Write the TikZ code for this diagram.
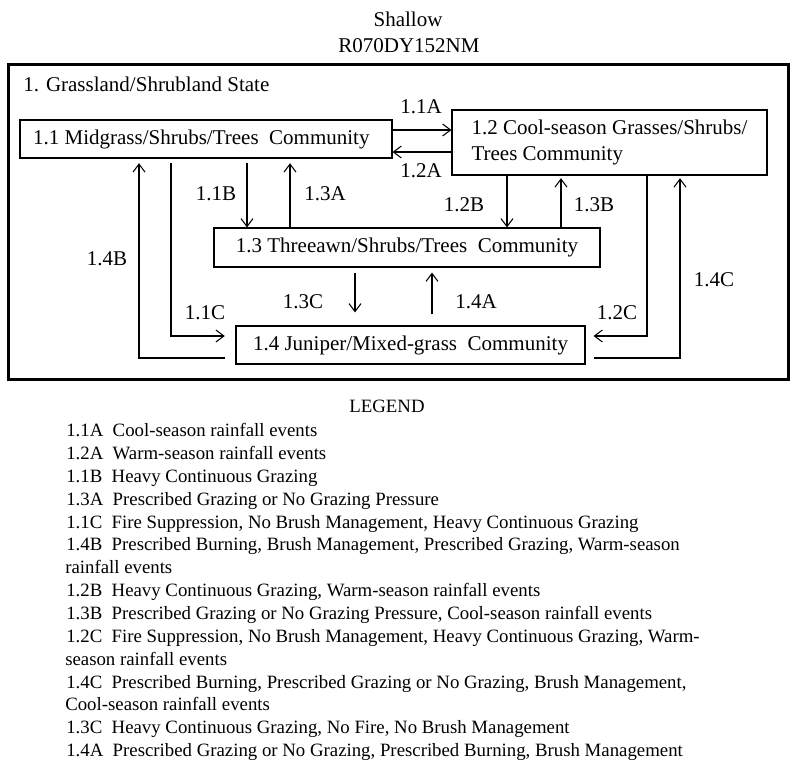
\documentclass[tikz,border=0pt]{standalone}
\usepackage{fontspec}
\setmainfont{Liberation Serif}
\usetikzlibrary{arrows.meta}
\begin{document}
\begin{tikzpicture}[x=0.75pt,y=-0.75pt,
  box/.style={draw,line width=0.8pt,inner sep=0pt,font=\fontsize{15.75}{20}\selectfont},
  lab/.style={inner sep=0pt,font=\fontsize{15.75}{19}\selectfont},
  arr/.style={line width=0.8pt,-{Straight Barb[length=6pt,width=9pt]}},
  leg/.style={anchor=base west,inner sep=0pt,font=\fontsize{14.1}{16}\selectfont}]
\useasboundingbox (0,0) rectangle (800,773);
% titles
\node[lab,anchor=base] (t1) at (408,27) {Shallow};
\node[lab,anchor=base] (t2) at (409,53) {R070DY152NM};
% frame
\node[draw,line width=2.25pt,inner sep=0pt,minimum width=585pt,minimum height=235.9pt] (frame) at (398,222.25) {};
\node[lab,anchor=base west] (st) at (23,92) {1. Grassland/Shrubland State};
% boxes
\node[box,minimum width=279pt,minimum height=28.5pt] (b11) at (206,139) {1.1 Midgrass/Shrubs/Trees\ \ Community\kern7pt};
\node[box,minimum width=236.25pt,minimum height=48.75pt,align=left] (b12) at (609.5,142.5) {1.2 Cool-season Grasses/Shrubs/\\Trees Community};
\node[box,minimum width=289.5pt,minimum height=29.25pt] (b13) at (407,247.5) {1.3 Threeawn/Shrubs/Trees\ \ Community};
\node[box,minimum width=261.75pt,minimum height=28.5pt] (b14) at (410.5,345) {1.4 Juniper/Mixed-grass\ \ Community};
% connectors
\draw[arr] (b11.east |- 0,130) -- (b12.west |- 0,130);
\draw[arr] (b12.west |- 0,152) -- (b11.east |- 0,152);
\draw[arr,shorten <=3pt] (b11.south -| 247,0) -- (b13.north -| 247,0);
\draw[arr,shorten >=3.5pt] (b13.north -| 290,0) -- (b11.south -| 290,0);
\draw[arr,shorten >=3.5pt] ([xshift=-7.5pt]b14.west |- 0,358) -| (b11.south -| 139,0);
\draw[arr,shorten <=3pt] (b11.south -| 171,0) |- ([xshift=-8pt]b14.west |- 0,336);
\draw[arr] (b12.south -| 507,0) -- (b13.north -| 507,0);
\draw[arr,shorten >=2pt] (b13.north -| 561,0) -- (b12.south -| 561,0);
\draw[arr] (b12.south -| 647,0) |- ([xshift=6pt]b14.east |- 0,336);
\draw[arr,shorten >=2pt] ([xshift=6pt]b14.east |- 0,358) -| (b12.south -| 680,0);
\draw[arr,shorten <=3.75pt,shorten >=9.75pt] (b13.south -| 355,0) -- (b14.north -| 355,0);
\draw[arr,shorten <=8.25pt,shorten >=3.75pt] (b14.north -| 432,0) -- (b13.south -| 432,0);
% labels
\node[lab] (l11A) at (421,107) {1.1A};
\node[lab] (l12A) at (421,171) {1.2A};
\node[lab] (l11B) at (216,194) {1.1B};
\node[lab] (l13A) at (325,194) {1.3A};
\node[lab] (l12B) at (464,205) {1.2B};
\node[lab] (l13B) at (594,205) {1.3B};
\node[lab] (l14B) at (107,259) {1.4B};
\node[lab] (l11C) at (205,313) {1.1C};
\node[lab] (l13C) at (303,302) {1.3C};
\node[lab] (l14A) at (476,302) {1.4A};
\node[lab] (l12C) at (617,313) {1.2C};
\node[lab] (l14C) at (714,280) {1.4C};
% legend
\node[leg,anchor=base] (lg) at (387,413) {LEGEND};
\node[leg] (g0) at (66,436.7) {1.1A\ \ Cool-season rainfall events};
\node[leg] (g1) at (66,459.55) {1.2A\ \ Warm-season rainfall events};
\node[leg] (g2) at (66,482.4) {1.1B\ \ Heavy Continuous Grazing};
\node[leg] (g3) at (66,505.25) {1.3A\ \ Prescribed Grazing or No Grazing Pressure};
\node[leg] (g4) at (66,528.1) {1.1C\ \ Fire Suppression, No Brush Management, Heavy Continuous Grazing};
\node[leg] (g5) at (66,550.95) {1.4B\ \ Prescribed Burning, Brush Management, Prescribed Grazing, Warm-season};
\node[leg] (g6) at (65,573.8) {rainfall events};
\node[leg] (g7) at (66,596.65) {1.2B\ \ Heavy Continuous Grazing, Warm-season rainfall events};
\node[leg] (g8) at (66,619.5) {1.3B\ \ Prescribed Grazing or No Grazing Pressure, Cool-season rainfall events};
\node[leg] (g9) at (66,642.35) {1.2C\ \ Fire Suppression, No Brush Management, Heavy Continuous Grazing, Warm-};
\node[leg] (g10) at (65,665.2) {season rainfall events};
\node[leg] (g11) at (66,688.05) {1.4C\ \ Prescribed Burning, Prescribed Grazing or No Grazing, Brush Management,};
\node[leg] (g12) at (65,710.9) {Cool-season rainfall events};
\node[leg] (g13) at (66,733.75) {1.3C\ \ Heavy Continuous Grazing, No Fire, No Brush Management};
\node[leg] (g14) at (66,756.6) {1.4A\ \ Prescribed Grazing or No Grazing, Prescribed Burning, Brush Management};
\end{tikzpicture}
\end{document}
